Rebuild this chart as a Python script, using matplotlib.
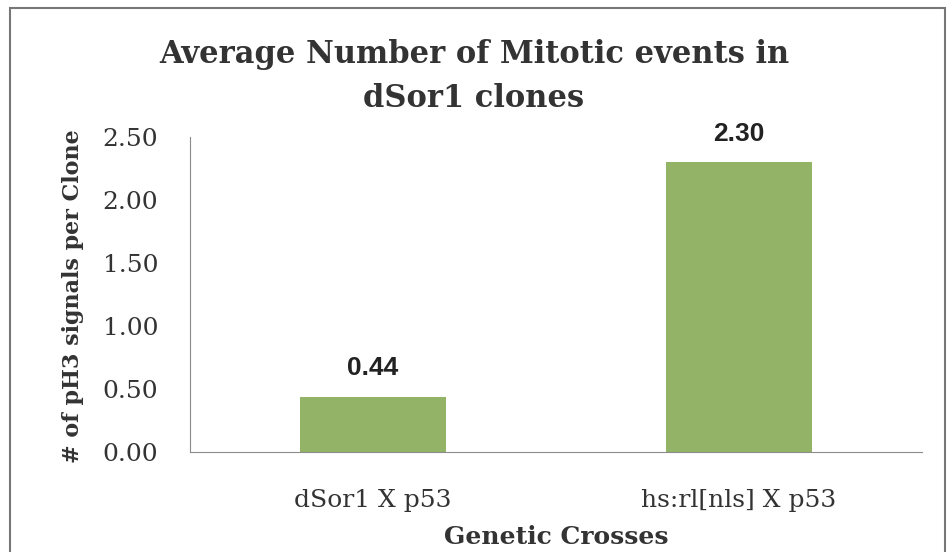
import matplotlib.pyplot as plt
from matplotlib.patches import Rectangle

# dados
cruzamentos = ['dSor1 X p53', 'hs:rl[nls] X p53']
media_ph3 = [0.44, 2.30]
rotulos = ['0.44', '2.30']
yticks = [0.0, 0.5, 1.0, 1.5, 2.0, 2.5]

serif = 'DejaVu Serif'
verde = '#93b366'
cinza = '#8c8c8c'
texto = '#333333'

fig = plt.figure(figsize=(9.48, 5.52), dpi=100)
ax = fig.add_axes([190/948, 1 - 452/552, 732/948, 315/552])

x = range(len(cruzamentos))
ax.bar(x, media_ph3, width=0.4, color=verde)
for i, v in enumerate(media_ph3):
    ax.text(i, v + 0.17, rotulos[i], ha='center', va='baseline',
            fontsize=19, fontweight='bold', family='Liberation Sans', color='#222222')

ax.set_xlim(-0.5, 1.5)
ax.set_ylim(0, 2.5)
ax.set_yticks(yticks)
ax.set_yticklabels(['%.2f' % t for t in yticks], family=serif, fontsize=18, color=texto)
ax.set_xticks(list(x))
ax.set_xticklabels(cruzamentos, family=serif, fontsize=18, color=texto)
ax.tick_params(axis='both', length=0)
ax.tick_params(axis='y', pad=23)
ax.tick_params(axis='x', pad=27)

for s in ['top', 'right']:
    ax.spines[s].set_visible(False)
ax.spines['left'].set_color(cinza)
ax.spines['bottom'].set_color(cinza)

ax.set_xlabel('Genetic Crosses', family=serif, fontsize=18, fontweight='bold', color=texto)
ax.xaxis.set_label_coords(0.5, (452 - 525) / 315)
ax.set_ylabel('# of pH3 signals per Clone', family=serif, fontsize=16, fontweight='bold', color=texto)
ax.yaxis.set_label_coords((84 - 190) / 732, 0.495)

fig.text(0.5, 1 - 63/552, 'Average Number of Mitotic events in', ha='center', va='baseline',
         family=serif, fontsize=22, fontweight='bold', color=texto)
fig.text(0.5, 1 - 107/552, 'dSor1 clones', ha='center', va='baseline',
         family=serif, fontsize=22, fontweight='bold', color=texto)

# moldura do grafico
fig.patches.append(Rectangle((10/948, -0.02), 935/948, 1 - 8/552 + 0.02, transform=fig.transFigure,
                             fill=False, edgecolor='#777777', linewidth=1.5))

plt.savefig('out.png', dpi=100)
